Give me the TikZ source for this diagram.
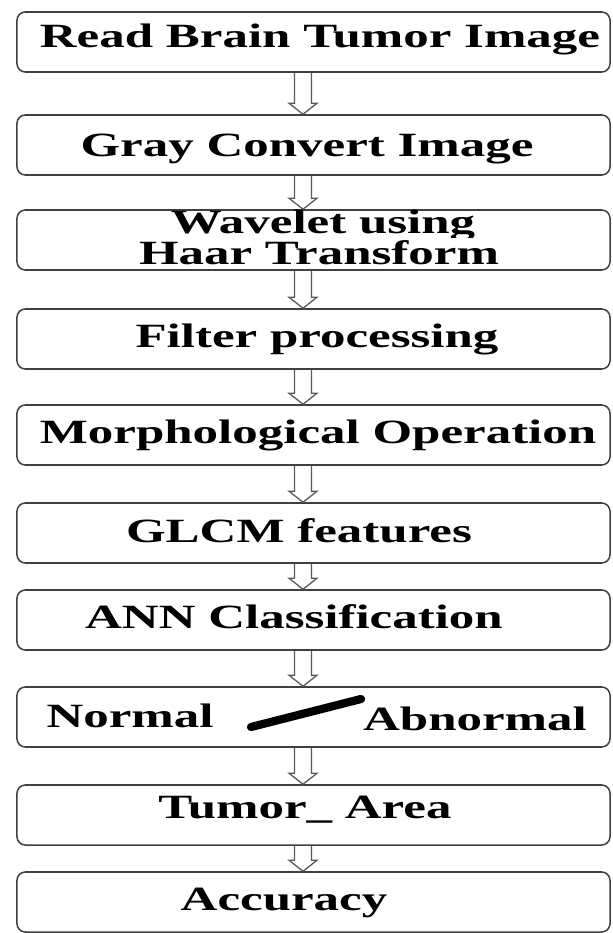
\documentclass[tikz,border=0pt]{standalone}
\usepackage{fontspec}
\setmainfont{Liberation Serif}[FakeStretch=1.5]
\usetikzlibrary{calc}

\tikzset{
  stepbox/.style={draw=black!75, line width=1.3pt, rounded corners=0.25cm,
    minimum width=17.79cm, minimum height=1.8cm, inner sep=0pt},
  steptext/.style={anchor=base, inner sep=0pt,
    font=\fontsize{29}{30}\selectfont\bfseries},
  hollowarrow/.style={draw=black!65, line width=1.1pt},
}
% double-lined hollow arrow between two boxes
\newcommand\flowarrow[2]{%
  \path (#1.south -| ax) coordinate (s) (#2.north -| ax) coordinate (e);
  \draw[hollowarrow] ($(s)+(-8.5,0)$) -- ($(e)+(-8.5,-11)$) -- ($(e)+(-14,-11)$)
    -- (e) -- ($(e)+(14,-11)$) -- ($(e)+(8.5,-11)$) -- ($(s)+(8.5,0)$);}

\begin{document}
\begin{tikzpicture}[x=0.03cm,y=-0.03cm]
  \useasboundingbox (0,0) rectangle (612,933);
  \coordinate (ax) at (303,0);
  % boxes
  \node[stepbox] (read)   at (313.5,42)  {};
  \node[stepbox] (gray)   at (313.5,145) {};
  \node[stepbox] (wave)   at (313.5,240) {};
  \node[stepbox] (filter) at (313.5,339) {};
  \node[stepbox] (morph)  at (313.5,435) {};
  \node[stepbox] (glcm)   at (313.5,533) {};
  \node[stepbox] (ann)    at (313.5,620) {};
  \node[stepbox] (class)  at (313.5,717) {};
  \node[stepbox] (area)   at (313.5,815) {};
  \node[stepbox] (acc)    at (313.5,902) {};
  % captions
  \node[steptext] (tread)   at (320,48)  {Read Brain Tumor Image};
  \node[steptext] (tgray)   at (307,157) {Gray Convert Image};
  \begin{scope}
    \clip (0,200) rectangle (612,237); % descender cut by the next line
    \node[steptext] (twave) at (323,233) {Wavelet using};
  \end{scope}
  \node[steptext] (thaar)   at (319,264) {Haar Transform};
  \node[steptext] (tfilter) at (317,347) {Filter processing};
  \node[steptext] (tmorph)  at (318,443) {Morphological Operation};
  \node[steptext] (tglcm)   at (299,542) {GLCM features};
  \node[steptext] (tann)    at (294,628) {ANN Classification};
  \node[steptext] (tnorm)   at (130,727) {Normal};
  \node[steptext] (tabn)    at (475,730) {Abnormal};
  \node[steptext] (tarea)   at (305,818) {Tumor\_ Area};
  \node[steptext] (tacc)    at (284,910) {Accuracy};
  % slash between the two classes
  \draw[line width=7pt, line cap=round] (251,727) -- (361,699);
  % arrows
  \foreach \a/\b in {read/gray, gray/wave, wave/filter, filter/morph,
      morph/glcm, glcm/ann, ann/class, class/area, area/acc}
    \flowarrow{\a}{\b};
\end{tikzpicture}
\end{document}
